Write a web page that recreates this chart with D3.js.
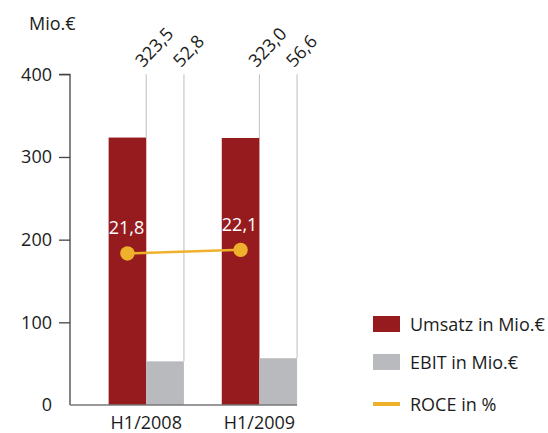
<!DOCTYPE html>
<html><head><meta charset="utf-8">
<script src="https://cdn.jsdelivr.net/npm/d3@7"></script>
<style>
body{margin:0;background:#fff;}
text{font-family:"Open Sans",sans-serif;fill:#1c1c1c;}
</style></head>
<body><svg id="c" width="548" height="433"></svg>
<script>
const categories = ["H1/2008", "H1/2009"];
const umsatz = [323.5, 323.0];
const ebit = [52.8, 56.6];
const roce = [21.8, 22.1];
const umsatzLabels = ["323,5", "323,0"];
const ebitLabels = ["52,8", "56,6"];
const roceLabels = ["21,8", "22,1"];
const yTicks = [0, 100, 200, 300, 400];
const legendItems = ["Umsatz in Mio.€", "EBIT in Mio.€", "ROCE in %"];

const RED = "#951b1f", GRAY = "#b9babd", ORANGE = "#efb12b";
const svg = d3.select("#c");
const FS = 18;

const y = d3.scaleLinear().domain([0, 400]).range([405, 74.3]);
const yR = d3.scaleLinear().domain([9.16, 36.74]).range([405, 74.3]);
const x0 = d3.scaleBand().domain(categories).range([89.7, 316]).paddingInner(0.0).paddingOuter(0);
const x1 = d3.scaleBand().domain(["u", "e"]).range([0, 75.3]);
const groupX = c => x0(c) + (x0.bandwidth() - 75.3) / 2;

// axis
const axis = d3.axisLeft(y).tickValues(yTicks).tickSize(11).tickPadding(7).tickFormat(d3.format("d"));
const ag = svg.append("g").attr("transform", "translate(70,0)").call(axis);
ag.select(".domain").attr("stroke", "#444").attr("stroke-width", 1.3).attr("d", "M-11,74.3H0V405");
ag.selectAll(".tick line").attr("stroke", "#444").attr("stroke-width", 1.3);
ag.selectAll(".tick text").attr("font-size", FS).attr("font-family", "Open Sans").attr("fill", "#1c1c1c");
ag.select(".tick line").remove();

svg.append("text").attr("x", 29).attr("y", 30).attr("font-size", FS).text("Mio.€");

// bars
categories.forEach((c, i) => {
  const gx = groupX(c);
  const ux = gx + x1("u"), ex = gx + x1("e"), bw = x1.bandwidth();
  svg.append("rect").attr("x", ux).attr("y", y(umsatz[i])).attr("width", bw).attr("height", y(0) - y(umsatz[i])).attr("fill", RED);
  svg.append("rect").attr("x", ex).attr("y", y(ebit[i])).attr("width", bw).attr("height", y(0) - y(ebit[i])).attr("fill", GRAY);
  [[ux + bw, umsatz[i], umsatzLabels[i]], [ex + bw, ebit[i], ebitLabels[i]]].forEach(([lx, v, lab]) => {
    svg.append("line").attr("x1", lx).attr("x2", lx).attr("y1", y(400)).attr("y2", y(v)).attr("stroke", "#c8c8c8").attr("stroke-width", 1.2);
    svg.append("text").attr("transform", `translate(${lx - 3},${y(400) - 6}) rotate(-47)`).attr("font-size", FS).text(lab);
  });
  svg.append("text").attr("x", ex).attr("y", 429).attr("text-anchor", "middle").attr("font-size", FS).text(c);
});

// baseline
svg.append("line").attr("x1", 70).attr("x2", groupX(categories[1]) + 75.3).attr("y1", 405).attr("y2", 405).attr("stroke", "#777").attr("stroke-width", 1.3);

// ROCE line
const pts = categories.map((c, i) => [groupX(c) + x1("u") + x1.bandwidth() / 2, yR(roce[i])]);
svg.append("path").attr("d", d3.line()(pts)).attr("stroke", ORANGE).attr("stroke-width", 2.5).attr("fill", "none");
pts.forEach((p, i) => {
  svg.append("circle").attr("cx", p[0]).attr("cy", p[1]).attr("r", 7.2).attr("fill", ORANGE);
  svg.append("text").attr("x", p[0] - 1).attr("y", p[1] - 19).attr("text-anchor", "middle").attr("font-size", FS).style("fill", "#fff").text(roceLabels[i]);
});

// legend
const lg = svg.append("g");
legendItems.forEach((t, i) => {
  const cy = [324, 362, 404][i];
  if (i < 2) lg.append("rect").attr("x", 373).attr("y", cy - 8).attr("width", 27).attr("height", 16).attr("fill", i === 0 ? RED : GRAY);
  else lg.append("rect").attr("x", 373).attr("y", cy - 2).attr("width", 27).attr("height", 4).attr("fill", ORANGE);
  lg.append("text").attr("x", 410).attr("y", cy + 7).attr("font-size", FS).text(t);
});
</script></body></html>
